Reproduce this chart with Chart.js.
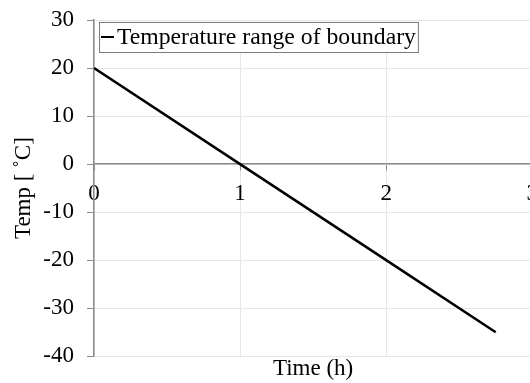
<!DOCTYPE html>
<html>
<head>
<meta charset="utf-8">
<script src="https://cdn.jsdelivr.net/npm/chart.js@4/dist/chart.umd.min.js"></script>
<style>
  html, body { margin: 0; padding: 0; background: #fff; overflow: hidden; }
</style>
</head>
<body>
<canvas id="tempChart" width="548" height="383"></canvas>
<script>
// values
const timeHours = [0, 1, 2, 2.75];
const tempC = [20, 0, -20, -35];
const seriesLabel = "Temperature range of boundary";
const xTitle = "Time (h)";
const yTitle = "Temp [ ˚C]";

const serif = "'Liberation Serif', 'Times New Roman', serif";
const gridColor = "#e6e6e6";
const axisColor = "#8c8c8c";

// legend with a thin frame in the top-left corner of the plot
const boxLegend = {
  id: "boxLegend",
  afterDraw(chart) {
    const { ctx, chartArea } = chart;
    const ds = chart.data.datasets[0];
    ctx.save();
    ctx.font = "23.7px " + serif;
    const textW = ctx.measureText(ds.label).width;
    const left = chartArea.left + 5;
    const top = chartArea.top + 2;
    const h = 30;
    const w = 18 + textW + 2;
    ctx.fillStyle = "#fff";
    ctx.fillRect(left, top, w, h);
    ctx.strokeStyle = "#7a7a7a";
    ctx.lineWidth = 1;
    ctx.strokeRect(left + 0.5, top + 0.5, w, h);
    ctx.strokeStyle = ds.borderColor;
    ctx.lineWidth = 2;
    ctx.beginPath();
    ctx.moveTo(left + 2, top + h / 2);
    ctx.lineTo(left + 15, top + h / 2);
    ctx.stroke();
    ctx.fillStyle = "#000";
    ctx.textBaseline = "middle";
    ctx.fillText(ds.label, left + 18, top + h / 2 + 1);
    ctx.restore();
  }
};

const whiteBg = {
  id: "whiteBg",
  beforeDraw(chart) {
    const { ctx, width, height } = chart;
    ctx.save();
    ctx.fillStyle = "#fff";
    ctx.fillRect(0, 0, width, height);
    ctx.restore();
  }
};

new Chart(document.getElementById("tempChart"), {
  type: "scatter",
  data: {
    datasets: [{
      label: seriesLabel,
      data: timeHours.map((t, i) => ({ x: t, y: tempC[i] })),
      showLine: true,
      borderColor: "#000",
      borderWidth: 2.5,
      pointRadius: 0,
      fill: false
    }]
  },
  options: {
    responsive: false,
    animation: false,
    layout: { padding: { top: 0, left: 6, right: 0, bottom: 0 } },
    plugins: {
      legend: { display: false },
      tooltip: { enabled: false }
    },
    scales: {
      x: {
        type: "linear",
        position: { y: 0 },
        min: 0,
        max: 3,
        afterFit(scale) { scale.paddingTop = 0; },
        ticks: {
          stepSize: 1,
          color: "#000",
          padding: 10,
          font: { family: serif, size: 23 }
        },
        grid: {
          color: gridColor,
          lineWidth: 1,
          tickColor: axisColor,
          tickLength: 6
        },
        border: { color: axisColor, width: 1.5 }
      },
      xTitle: {
        type: "linear",
        axis: "x",
        position: "bottom",
        min: 0,
        max: 3,
        ticks: { display: false },
        grid: { display: false, drawTicks: false },
        border: { display: false },
        title: {
          display: true,
          text: xTitle,
          color: "#000",
          padding: 0,
          font: { family: serif, size: 23, lineHeight: 1.13 }
        }
      },
      y: {
        min: -40,
        max: 30,
        afterFit(scale) {
          scale.width = 88;
          scale.paddingTop = 20;
        },
        ticks: {
          stepSize: 10,
          color: "#000",
          padding: 13,
          font: { family: serif, size: 23 }
        },
        grid: {
          color: gridColor,
          lineWidth: 1,
          tickColor: axisColor,
          tickLength: 7
        },
        border: { color: axisColor, width: 1.5 },
        title: {
          display: true,
          text: yTitle,
          color: "#000",
          padding: 4,
          font: { family: serif, size: 23 }
        }
      }
    }
  },
  plugins: [whiteBg, boxLegend]
});
</script>
</body>
</html>
